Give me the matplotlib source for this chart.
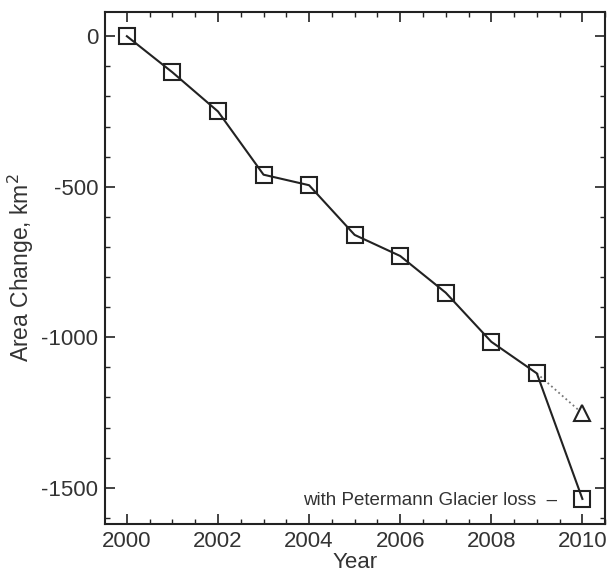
import matplotlib
matplotlib.use("Agg")
import matplotlib.pyplot as plt
from matplotlib.ticker import MultipleLocator

years = [2000, 2001, 2002, 2003, 2004, 2005, 2006, 2007, 2008, 2009, 2010]
area_change = [0, -120, -250, -460, -495, -660, -730, -852, -1015, -1120, -1537]
years_alt = [2009, 2010]
area_alt = [-1120, -1253]
annot_text = "with Petermann Glacier loss  \u2013"

plt.rcParams['font.family'] = ['Liberation Sans', 'DejaVu Sans']
plt.rcParams['axes.unicode_minus'] = False
fig = plt.figure(figsize=(6.07, 5.77), dpi=100)
ax = fig.add_axes([0.173, 0.092, 0.824, 0.887])

ax.plot(years_alt, area_alt, linestyle=':', color='#777777', lw=1.3)
ax.plot(years_alt[-1:], area_alt[-1:], marker='^', ms=11, mfc='white', mec='#222222', mew=1.5, ls='none')
ax.plot(years, area_change, color='#222222', lw=1.5, marker='s', ms=12, mfc='none', mec='#222222', mew=1.5)

ax.text(2009.45, area_change[-1] - 5, annot_text, ha='right', va='center', fontsize=13.5, color='#333333')

ax.set_xlim(1999.52, 2010.5)
ax.set_ylim(-1620, 80)
ax.xaxis.set_major_locator(MultipleLocator(2))
ax.xaxis.set_minor_locator(MultipleLocator(0.5))
ax.yaxis.set_major_locator(MultipleLocator(500))
ax.yaxis.set_minor_locator(MultipleLocator(100))
ax.tick_params(which='both', direction='in', top=True, right=True, color='#222222')
ax.tick_params(which='major', length=7, width=1.2, labelsize=16, labelcolor='#333333', pad=5)
ax.tick_params(which='minor', length=3.5, width=1.0)
for s in ax.spines.values():
    s.set_linewidth(1.5)
    s.set_color('#222222')

ax.set_xlabel('Year', fontsize=16, color='#333333', labelpad=0)
ax.set_ylabel('Area Change, km$^2$', fontsize=16.5, color='#333333', labelpad=4)

fig.savefig('out.png', dpi=100)
